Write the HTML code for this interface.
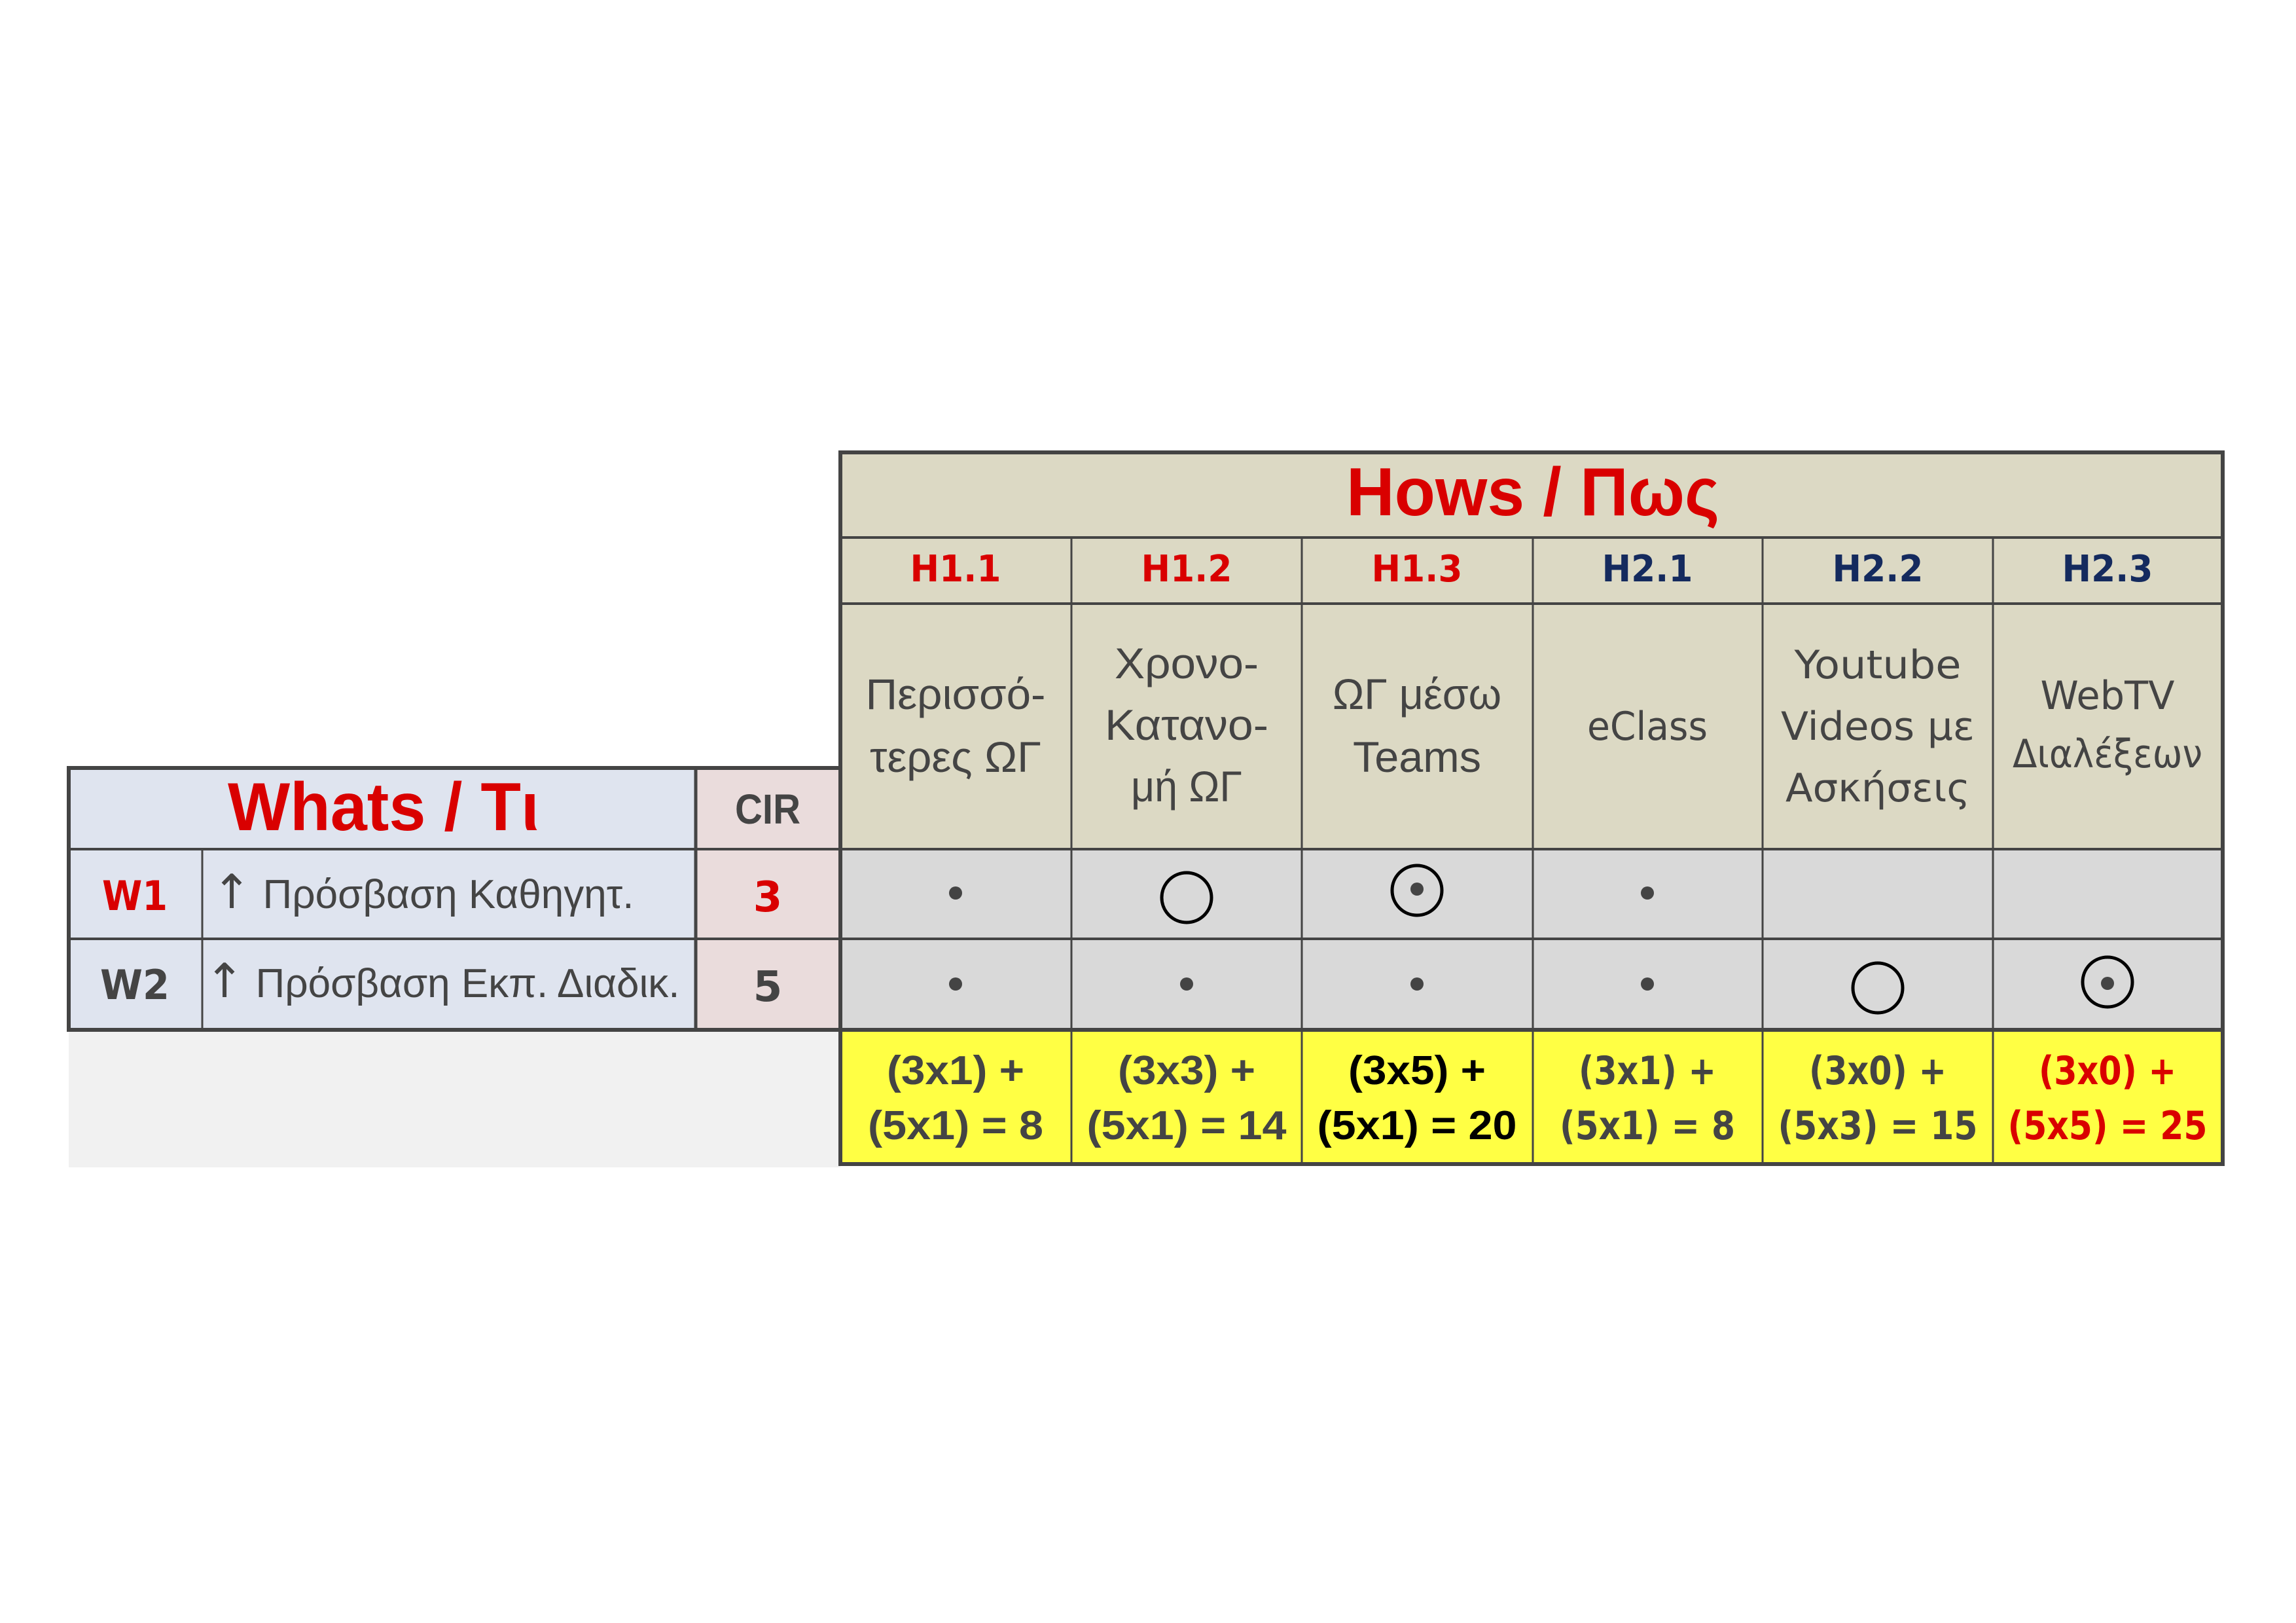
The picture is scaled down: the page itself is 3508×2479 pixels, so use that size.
<!DOCTYPE html>
<html><head><meta charset="utf-8"><style>
html,body{margin:0;padding:0;background:#fff;width:3508px;height:2479px;overflow:hidden}
</style></head><body>
<svg width="3508" height="2479" viewBox="0 0 3508 2479" xmlns="http://www.w3.org/2000/svg">
<rect width="3508" height="2479" fill="#fff"/>
<rect x="105" y="1573" width="1179" height="210" fill="#f1f1f1"/>
<rect x="105" y="1173" width="958" height="400" fill="#dfe4ef"/>
<rect x="1063" y="1173" width="221" height="400" fill="#eadcdc"/>
<rect x="1284" y="691" width="2112" height="606" fill="#dcd9c4"/>
<rect x="1284" y="1297" width="2112" height="276" fill="#d9d9d9"/>
<rect x="1284" y="1573" width="2112" height="205" fill="#ffff44"/>
<g stroke="#444" fill="none">
 <line x1="105" y1="1297" x2="1284" y2="1297" stroke-width="4"/>
 <line x1="105" y1="1434" x2="1284" y2="1434" stroke-width="4"/>
 <line x1="309" y1="1297" x2="309" y2="1573" stroke-width="3"/>
 <line x1="1063" y1="1173" x2="1063" y2="1573" stroke-width="5"/>
 <rect x="105" y="1173" width="1179" height="400" stroke-width="6"/>
 <line x1="1284" y1="821" x2="3396" y2="821" stroke-width="4"/>
 <line x1="1284" y1="922" x2="3396" y2="922" stroke-width="4"/>
 <line x1="1284" y1="1297" x2="3396" y2="1297" stroke-width="4"/>
 <line x1="1284" y1="1434" x2="3396" y2="1434" stroke-width="4"/>
 <line x1="1284" y1="1573" x2="3396" y2="1573" stroke-width="6"/>
 <g stroke-width="3">
 <line x1="1637" y1="821" x2="1637" y2="1778"/>
 <line x1="1989" y1="821" x2="1989" y2="1778"/>
 <line x1="2342" y1="821" x2="2342" y2="1778"/>
 <line x1="2693" y1="821" x2="2693" y2="1778"/>
 <line x1="3045" y1="821" x2="3045" y2="1778"/>
 </g>
 <rect x="1284" y="691" width="2112" height="1087" stroke-width="6"/>
</g>
<g font-family="Liberation Sans, DejaVu Sans, sans-serif" text-anchor="middle">
 <text x="2342" y="787" font-size="104" font-weight="bold" fill="#d90000" textLength="570" lengthAdjust="spacingAndGlyphs">Hows / Πως</text>
 <text x="586" y="1268" font-size="104" font-weight="bold" fill="#d90000" textLength="476" lengthAdjust="spacingAndGlyphs">Whats / Tι</text>
 <text x="1173" y="1258" font-size="64" font-weight="bold" fill="#444" textLength="100" lengthAdjust="spacingAndGlyphs">CIR</text>
 <g font-family="DejaVu Sans, sans-serif" font-size="56" font-weight="bold">
 <text x="1460" y="888" fill="#d90000" textLength="139" lengthAdjust="spacingAndGlyphs">H1.1</text>
 <text x="1813" y="888" fill="#d90000" textLength="139" lengthAdjust="spacingAndGlyphs">H1.2</text>
 <text x="2165" y="888" fill="#d90000" textLength="139" lengthAdjust="spacingAndGlyphs">H1.3</text>
 <text x="2517" y="888" fill="#142a5e" textLength="139" lengthAdjust="spacingAndGlyphs">H2.1</text>
 <text x="2869" y="888" fill="#142a5e" textLength="139" lengthAdjust="spacingAndGlyphs">H2.2</text>
 <text x="3220" y="888" fill="#142a5e" textLength="139" lengthAdjust="spacingAndGlyphs">H2.3</text>
 </g>
 <g font-size="66" fill="#444">
 <text x="1460" y="1083" textLength="275" lengthAdjust="spacingAndGlyphs">Περισσό-</text>
 <text x="1460" y="1179" textLength="262" lengthAdjust="spacingAndGlyphs">τερες ΩΓ</text>
 <text x="1813" y="1036" textLength="220" lengthAdjust="spacingAndGlyphs">Χρονο-</text>
 <text x="1813" y="1130" textLength="250" lengthAdjust="spacingAndGlyphs">Κατανο-</text>
 <text x="1813" y="1224" textLength="170" lengthAdjust="spacingAndGlyphs">μή ΩΓ</text>
 <text x="2165" y="1083" textLength="258" lengthAdjust="spacingAndGlyphs">ΩΓ μέσω</text>
 <text x="2165" y="1179" textLength="196" lengthAdjust="spacingAndGlyphs">Teams</text>
 </g>
 <g font-family="DejaVu Sans, sans-serif" font-size="60" fill="#444">
 <text x="2517" y="1130" textLength="184" lengthAdjust="spacingAndGlyphs">eClass</text>
 <text x="2869" y="1036" textLength="255" lengthAdjust="spacingAndGlyphs">Youtube</text>
 <text x="2869" y="1130" textLength="296" lengthAdjust="spacingAndGlyphs">Videos με</text>
 <text x="2869" y="1224" textLength="282" lengthAdjust="spacingAndGlyphs">Ασκήσεις</text>
 <text x="3220" y="1083" textLength="205" lengthAdjust="spacingAndGlyphs">WebTV</text>
 <text x="3220" y="1172" textLength="290" lengthAdjust="spacingAndGlyphs">Διαλέξεων</text>
 </g>
 <g font-family="DejaVu Sans, sans-serif" font-size="62" font-weight="bold">
 <text x="206" y="1390" fill="#d90000" textLength="100" lengthAdjust="spacingAndGlyphs">W1</text>
 <text x="206" y="1526" fill="#444" textLength="106" lengthAdjust="spacingAndGlyphs">W2</text>
 <text x="1173" y="1392" fill="#d90000" font-size="64">3</text>
 <text x="1173" y="1529" fill="#444" font-size="64">5</text>
 </g>
 <g font-size="62" fill="#444" text-anchor="start">
 <text x="324" y="1387"><tspan font-family="DejaVu Sans, sans-serif" font-size="72">↑</tspan> Πρόσβαση Καθηγητ.</text>
 <text x="313" y="1523"><tspan font-family="DejaVu Sans, sans-serif" font-size="72">↑</tspan> Πρόσβαση Εκπ. Διαδικ.</text>
 </g>
 <g font-size="62" font-weight="bold">
 <text x="1460" y="1656" fill="#444" textLength="210" lengthAdjust="spacingAndGlyphs">(3x1) +</text>
 <text x="1460" y="1740" fill="#444" textLength="268" lengthAdjust="spacingAndGlyphs">(5x1) = 8</text>
 <text x="1813" y="1656" fill="#444" textLength="210" lengthAdjust="spacingAndGlyphs">(3x3) +</text>
 <text x="1813" y="1740" fill="#444" textLength="305" lengthAdjust="spacingAndGlyphs">(5x1) = 14</text>
 <text x="2165" y="1656" fill="#000" textLength="210" lengthAdjust="spacingAndGlyphs">(3x5) +</text>
 <text x="2165" y="1740" fill="#000" textLength="305" lengthAdjust="spacingAndGlyphs">(5x1) = 20</text>
 </g>
 <g font-family="DejaVu Sans, sans-serif" font-size="60" font-weight="bold">
 <text x="2517" y="1656" fill="#444" textLength="210" lengthAdjust="spacingAndGlyphs">(3x1) +</text>
 <text x="2517" y="1740" fill="#444" textLength="268" lengthAdjust="spacingAndGlyphs">(5x1) = 8</text>
 <text x="2869" y="1656" fill="#444" textLength="210" lengthAdjust="spacingAndGlyphs">(3x0) +</text>
 <text x="2869" y="1740" fill="#444" textLength="305" lengthAdjust="spacingAndGlyphs">(5x3) = 15</text>
 <text x="3220" y="1656" fill="#d90000" textLength="210" lengthAdjust="spacingAndGlyphs">(3x0) +</text>
 <text x="3220" y="1740" fill="#d90000" textLength="305" lengthAdjust="spacingAndGlyphs">(5x5) = 25</text>
 </g>
</g>
<g fill="#444">
 <circle cx="1460" cy="1364" r="10"/>
 <circle cx="2517" cy="1364" r="10"/>
 <circle cx="1460" cy="1503" r="10"/>
 <circle cx="1813" cy="1503" r="10"/>
 <circle cx="2165" cy="1503" r="10"/>
 <circle cx="2517" cy="1503" r="10"/>
 <circle cx="2165" cy="1358" r="10"/>
 <circle cx="3220" cy="1502" r="10"/>
</g>
<g fill="none" stroke="#000" stroke-width="5">
 <circle cx="1813" cy="1371" r="38"/>
 <circle cx="2165" cy="1360" r="38"/>
 <circle cx="2869" cy="1509" r="38"/>
 <circle cx="3220" cy="1500" r="38"/>
</g>
</svg>
</body></html>
